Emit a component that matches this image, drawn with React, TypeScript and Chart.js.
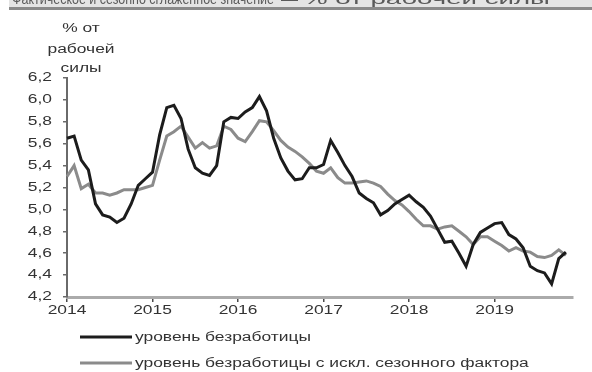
import React, { useEffect, useRef } from "react";
import { Chart, registerables } from "chart.js";

Chart.register(...registerables);

// Monthly unemployment, % of labour force, Jan 2014 – Nov 2019
const years = [2014, 2015, 2016, 2017, 2018, 2019];

const unemployment = [
  5.65, 5.67, 5.45, 5.36, 5.05, 4.95, 4.93, 4.88, 4.92, 5.05, 5.22, 5.28,
  5.34, 5.68, 5.93, 5.95, 5.83, 5.55, 5.38, 5.33, 5.31, 5.40, 5.80, 5.84,
  5.83, 5.89, 5.93, 6.03, 5.90, 5.65, 5.47, 5.35, 5.27, 5.28, 5.38, 5.38,
  5.41, 5.63, 5.52, 5.40, 5.30, 5.15, 5.10, 5.06, 4.95, 4.99, 5.05, 5.09,
  5.13, 5.07, 5.02, 4.94, 4.82, 4.70, 4.71, 4.60, 4.48, 4.68, 4.79, 4.83,
  4.87, 4.88, 4.77, 4.73, 4.65, 4.48, 4.44, 4.42, 4.32, 4.55, 4.61,
];

const unemploymentSA = [
  5.30, 5.40, 5.19, 5.23, 5.15, 5.15, 5.13, 5.15, 5.18, 5.18, 5.18, 5.20,
  5.22, 5.45, 5.67, 5.71, 5.76, 5.66, 5.56, 5.61, 5.56, 5.58, 5.76, 5.73,
  5.65, 5.62, 5.71, 5.81, 5.80, 5.72, 5.63, 5.57, 5.53, 5.48, 5.42, 5.35,
  5.33, 5.38, 5.29, 5.24, 5.24, 5.25, 5.26, 5.24, 5.21, 5.14, 5.08, 5.04,
  4.98, 4.91, 4.85, 4.85, 4.82, 4.84, 4.85, 4.80, 4.75, 4.68, 4.75, 4.75,
  4.71, 4.67, 4.62, 4.65, 4.62, 4.61, 4.57, 4.56, 4.58, 4.63, 4.58,
];

const seriesNames = [
  "уровень безработицы",
  "уровень безработицы с искл. сезонного фактора",
];

const axisTitle = ["% от", "рабочей", "силы"];
const headerLeft = "Фактическое и сезонно сглаженное значение";
const headerRight = "% от рабочей силы";

const yMin = 4.2;
const yMax = 6.2;
const yStep = 0.2;

const monthLabels = years.flatMap((yr) =>
  Array.from({ length: 12 }, (_, m) => `${String(m + 1).padStart(2, "0")}.${yr}`)
);

const FONT = '12px "Liberation Sans", Arial, sans-serif';
const TEXT = "#333333";
const STRETCH = 1.45;
const BLACK = "#1c1c1c";
const GREY = "#8b8b8b";

function drawStretched(
  ctx: CanvasRenderingContext2D,
  text: string,
  x: number,
  y: number,
  align: CanvasTextAlign,
  sx: number = STRETCH
) {
  ctx.save();
  ctx.translate(x, y);
  ctx.scale(sx, 1);
  ctx.textAlign = align;
  ctx.fillText(text, 0, 0);
  ctx.restore();
}

function fitStretched(
  ctx: CanvasRenderingContext2D,
  text: string,
  x: number,
  y: number,
  width: number
) {
  const w = ctx.measureText(text).width;
  drawStretched(ctx, text, x, y, "left", width / w);
}

const labelsPlugin = {
  id: "stretchedLabels",
  beforeDraw(chart: any) {
    const ctx: CanvasRenderingContext2D = chart.ctx;
    ctx.save();
    // header strip along the top edge
    ctx.fillStyle = "#e4e4e4";
    ctx.fillRect(9, 0, chart.width - 9, 8);
    ctx.fillStyle = "#5a5a5a";
    ctx.font = '15px "Liberation Sans", Arial, sans-serif';
    ctx.textBaseline = "alphabetic";
    fitStretched(ctx, headerLeft, 12, 4, 262);
    fitStretched(ctx, "—", 281, 4, 17);
    fitStretched(ctx, headerRight, 303, 4, 247);
    ctx.fillStyle = "#8a8a8a";
    ctx.fillRect(9, 7, chart.width - 9, 3);
    ctx.restore();
  },
  afterDraw(chart: any) {
    const ctx: CanvasRenderingContext2D = chart.ctx;
    const { x, y } = chart.scales;
    ctx.save();
    ctx.font = FONT;
    ctx.fillStyle = TEXT;
    ctx.textBaseline = "middle";

    y.ticks.forEach((t: any, i: number) => {
      const py = y.getPixelForTick(i);
      drawStretched(ctx, Number(t.value).toFixed(1).replace(".", ","), 52, py, "right");
    });

    x.ticks.forEach((t: any, i: number) => {
      const px = x.getPixelForTick(i);
      drawStretched(ctx, monthLabels[t.value].slice(3), px, 311, "center");
    });

    const titleY = [29, 50, 69];
    axisTitle.forEach((line, i) => drawStretched(ctx, line, 81, titleY[i], "center"));

    // legend
    const rows = [338, 364];
    chart.data.datasets.forEach((ds: any, i: number) => {
      ctx.strokeStyle = ds.borderColor;
      ctx.lineWidth = 3;
      ctx.beginPath();
      ctx.moveTo(80, rows[i] - 1);
      ctx.lineTo(132, rows[i] - 1);
      ctx.stroke();
      ctx.fillStyle = TEXT;
      drawStretched(ctx, ds.label, 135, rows[i], "left");
    });
    ctx.restore();
  },
};

export default function App() {
  const canvasRef = useRef<HTMLCanvasElement | null>(null);

  useEffect(() => {
    if (!canvasRef.current) return;
    const chart = new Chart(canvasRef.current, {
      type: "line",
      data: {
        labels: monthLabels,
        datasets: [
          {
            label: seriesNames[0],
            data: unemployment,
            borderColor: BLACK,
            borderWidth: 3,
            pointRadius: 0,
            tension: 0,
          },
          {
            label: seriesNames[1],
            data: unemploymentSA,
            borderColor: GREY,
            borderWidth: 3,
            pointRadius: 0,
            tension: 0,
          },
        ],
      },
      options: {
        responsive: false,
        animation: false,
        layout: { padding: { top: 78, right: 19, bottom: 0, left: 0 } },
        plugins: {
          legend: { display: false },
          tooltip: { enabled: false },
          title: { display: false },
        },
        scales: {
          x: {
            type: "category",
            offset: false,
            ticks: { display: false, autoSkip: false },
            grid: {
              display: true,
              drawOnChartArea: false,
              drawTicks: true,
              tickLength: 5,
              color: "#4a4a4a",
              lineWidth: 1.5,
            },
            border: { display: true, color: "#ababab", width: 3 },
            afterBuildTicks: (axis: any) => {
              axis.ticks = axis.ticks.filter((t: any) => t.value % 12 === 0);
            },
            afterFit: (axis: any) => {
              axis.height = 75;
            },
          },
          y: {
            min: yMin,
            max: yMax,
            ticks: { display: false, stepSize: yStep },
            grid: {
              display: true,
              drawOnChartArea: false,
              drawTicks: true,
              tickLength: 4,
              color: "#6a6a6a",
              lineWidth: 1.5,
            },
            border: { display: true, color: "#6a6a6a", width: 2 },
            afterFit: (axis: any) => {
              axis.width = 67;
            },
          },
        },
      },
      plugins: [labelsPlugin],
    });
    return () => chart.destroy();
  }, []);

  return (
    <div style={{ position: "absolute", left: 0, top: 0, width: 592, height: 372, background: "#ffffff" }}>
      <canvas ref={canvasRef} width={592} height={372} />
    </div>
  );
}
